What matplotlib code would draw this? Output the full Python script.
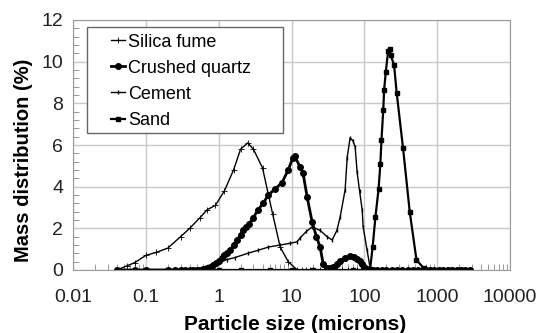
import matplotlib.pyplot as plt
from matplotlib.patches import Rectangle

plt.rcParams['font.family'] = ['Liberation Sans', 'DejaVu Sans']

# particle size (microns) and mass distribution (%)
tail = [130, 150, 175, 200, 240, 280, 330, 400, 460, 540, 630, 700, 800,
        900, 1050, 1200, 1400, 1600, 1850, 2100, 2400, 2800]

silica_x = [0.04, 0.055, 0.07, 0.1, 0.14, 0.2, 0.3, 0.4, 0.55, 0.7, 0.9, 1.2,
            1.6, 2.0, 2.5, 3.0, 4.0, 5.5, 7.0, 9.0, 12, 14, 16, 18, 20, 25,
            30, 35, 40, 50, 60, 70, 80, 100, 120] + tail
silica_y = [0, 0.2, 0.35, 0.7, 0.85, 1.05, 1.6, 2.0, 2.5, 2.9, 3.1, 3.8,
            4.8, 5.8, 6.1, 5.8, 4.9, 2.7, 1.1, 0.4, 0, 0, 0, 0, 0, 0,
            0, 0, 0, 0, 0, 0, 0, 0, 0] + [0] * len(tail)

quartz_x = [0.04, 0.07, 0.1, 0.2, 0.25, 0.3, 0.35, 0.4, 0.45, 0.5, 0.55,
            0.6, 0.65, 0.7, 0.76, 0.84, 0.92, 1.0, 1.1, 1.2, 1.32, 1.44,
            1.6, 1.8, 2.0, 2.16, 2.4, 2.6, 2.97, 3.5, 4.08, 4.8, 6.0, 7.43,
            9.0, 10.5, 11.1, 13.1, 14.4, 16.4, 19.2, 22, 24.7, 27.2, 30.8,
            34, 37.2, 42, 46.6, 55, 63.8, 72, 79.6, 86, 93, 100, 109,
            120] + tail
quartz_y = [0, 0, 0, 0, 0, 0, 0, 0, 0, 0, 0.01,
            0.03, 0.05, 0.1, 0.16, 0.24, 0.33, 0.45, 0.57, 0.7, 0.82, 0.96,
            1.2, 1.45, 1.7, 1.9, 2.05, 2.2, 2.5, 2.9, 3.2, 3.6, 3.9, 4.2,
            4.8, 5.4, 5.45, 4.95, 4.65, 3.5, 2.3, 1.6, 1.1, 0.3, 0.1,
            0.1, 0.15, 0.3, 0.45, 0.6, 0.65, 0.63, 0.55, 0.45, 0.3, 0.15, 0.05,
            0] + [0] * len(tail)

cement_x = [0.04, 0.1, 0.2, 0.3, 0.4, 0.5, 0.7, 0.85, 1.05, 1.3, 1.68, 2.5,
            3.5, 4.8, 7.0, 9.5, 11.9, 13.1, 16, 19.2, 24.7, 30.8, 36.1, 42,
            46.6, 54.5, 58.1, 63.8, 70, 74.8, 79.6, 86, 93.3, 96.3, 109,
            120] + tail
cement_y = [0, 0, 0, 0, 0, 0.05, 0.15, 0.3, 0.42, 0.5, 0.6, 0.8,
            0.95, 1.1, 1.2, 1.28, 1.35, 1.54, 1.85, 2.07, 1.9, 1.6, 1.44, 1.9,
            2.55, 3.85, 5.4, 6.35, 6.2, 5.9, 4.7, 3.8, 2.9, 2.07, 0.96,
            0.1] + [0] * len(tail)

sand_x = [0.04, 0.1, 0.2, 0.5, 1, 2, 5, 10, 20, 40, 70, 100, 120, 130,
          142, 157, 166, 172, 182, 187, 197, 212, 223, 230, 256, 278, 340,
          420, 520, 650, 700, 800, 900, 1050, 1200, 1400, 1600, 1850, 2100,
          2400, 2800]
sand_y = [0, 0, 0, 0, 0, 0, 0, 0, 0, 0, 0, 0, 0.05, 1.1,
          2.55, 3.9, 5.1, 6.25, 7.7, 8.65, 9.5, 10.5, 10.6, 10.3, 9.85, 8.5, 5.85,
          2.8, 0.48, 0.1, 0, 0, 0, 0, 0, 0, 0, 0, 0,
          0, 0]

fig, ax = plt.subplots(figsize=(5.43, 3.33), dpi=100)
fig.subplots_adjust(left=73/543, right=510/543, top=1-20/333, bottom=1-270/333)

ax.plot(silica_x, silica_y, color='black', lw=1.0, marker='+', ms=4,
        mew=0.6, label='Silica fume')
ax.plot(quartz_x, quartz_y, color='black', lw=2.0, marker='o', ms=4,
        label='Crushed quartz')
ax.plot(cement_x, cement_y, color='black', lw=1.0, marker='|', ms=3,
        mew=1.0, label='Cement')
ax.plot(sand_x, sand_y, color='black', lw=1.6, marker='s', ms=3.5,
        label='Sand')

ax.set_xscale('log')
ax.set_xlim(0.01, 10000)
ax.set_ylim(0, 12)
ax.set_yticks([0, 2, 4, 6, 8, 10, 12])
ax.set_xticks([0.01, 0.1, 1, 10, 100, 1000, 10000])
ax.set_xticklabels(['0.01', '0.1', '1', '10', '100', '1000', '10000'])
ax.yaxis.set_minor_locator(plt.MultipleLocator(0.4))
ax.grid(True, which='major', color='#c8c8c8', lw=1.0)
ax.tick_params(which='both', direction='in', colors='#888888',
               labelcolor='#222222', labelsize=14)
ax.tick_params(which='major', length=0)
ax.tick_params(which='minor', length=4)
ax.tick_params(axis='x', which='major', pad=14)
ax.tick_params(axis='y', which='major', pad=7)
for s in ax.spines.values():
    s.set_color('#999999')

ax.set_xlabel('Particle size (microns)', fontsize=15, fontweight='bold')
ax.set_ylabel('Mass distribution (%)', fontsize=14.5, fontweight='bold')
ax.xaxis.set_label_coords(0.508, -0.182)
ax.yaxis.set_label_coords(-0.0915, 0.44)

# legend box drawn on its own, entries placed inside it
ax.add_patch(Rectangle((0.032, 0.548), 0.448, 0.424, transform=ax.transAxes,
                       facecolor='white', edgecolor='#666666', lw=1.0,
                       zorder=4))
leg = ax.legend(loc='upper left', bbox_to_anchor=(0.087, 0.945), fontsize=13,
                handlelength=0.8, handletextpad=0.15, borderpad=0,
                borderaxespad=0, labelspacing=0.5, frameon=False)
leg.set_zorder(5)

fig.savefig('out.png', dpi=100)
